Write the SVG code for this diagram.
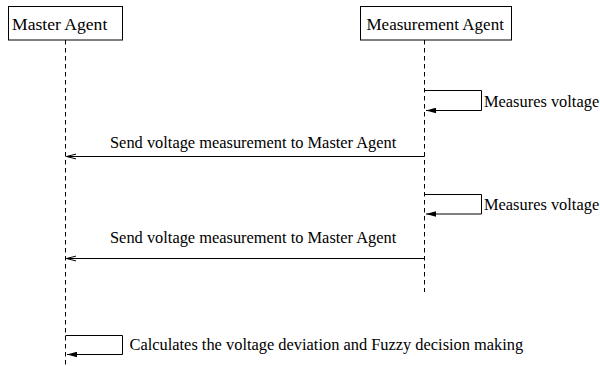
<svg xmlns="http://www.w3.org/2000/svg" width="600" height="366" viewBox="0 0 600 366">
<style>
text{font-family:"Liberation Serif","Times New Roman",serif;fill:#000}
.lbl{font-size:17px}
.msg{font-size:16.4px}
.box{fill:#fff;stroke:#000;stroke-width:1}
.life{stroke:#000;stroke-width:1;stroke-dasharray:4.5 3.5;fill:none}
.line{stroke:#000;stroke-width:1;fill:none}
</style>
<defs>
<marker id="open" markerWidth="12" markerHeight="8" refX="10" refY="3" orient="auto" markerUnits="userSpaceOnUse" viewBox="0 0 12 6">
<path d="M0.5,0.6 L10,3 L0.5,5.4" fill="none" stroke="#000" stroke-width="1"/>
</marker>
<marker id="filled" markerWidth="10" markerHeight="6" refX="10" refY="3" orient="auto" markerUnits="userSpaceOnUse" viewBox="0 0 10 6">
<path d="M0,0.2 L10,3 L0,5.8 Z" fill="#000"/>
</marker>
</defs>
<rect width="600" height="366" fill="#fff"/>
<g id="master">
<rect class="box" x="8.5" y="6.5" width="114" height="33.5"/>
<text class="lbl" x="12" y="29.5" style="font-size:17.6px">Master Agent</text>
</g>
<g id="measurement">
<rect class="box" x="360.5" y="6.5" width="151" height="33.5"/>
<text class="lbl" x="366.5" y="29.5">Measurement Agent</text>
</g>
<g id="lifelines">
<line class="life" x1="65.5" y1="40" x2="65.5" y2="366"/>
<line class="life" x1="424.5" y1="40" x2="424.5" y2="292"/>
</g>
<g id="connectors">
<path class="line" d="M424.5,90.5 H481.5 V110.5 H426" marker-end="url(#filled)"/>
<line class="line" x1="424.5" y1="156.5" x2="66.5" y2="156.5" marker-end="url(#open)"/>
<path class="line" d="M424.5,194.5 H481.5 V214 H426" marker-end="url(#filled)"/>
<line class="line" x1="424.5" y1="258.5" x2="66.5" y2="258.5" marker-end="url(#open)"/>
<path class="line" d="M65.5,335.5 H122.5 V354.5 H67" marker-end="url(#filled)"/>
</g>
<g id="labels">
<text class="msg" x="484" y="106.5">Measures voltage</text>
<text class="msg" x="110" y="147.5">Send voltage measurement to Master Agent</text>
<text class="msg" x="484" y="210">Measures voltage</text>
<text class="msg" x="110" y="242.5">Send voltage measurement to Master Agent</text>
<text class="msg" x="129.5" y="349.5">Calculates the voltage deviation and Fuzzy decision making</text>
</g>
</svg>
